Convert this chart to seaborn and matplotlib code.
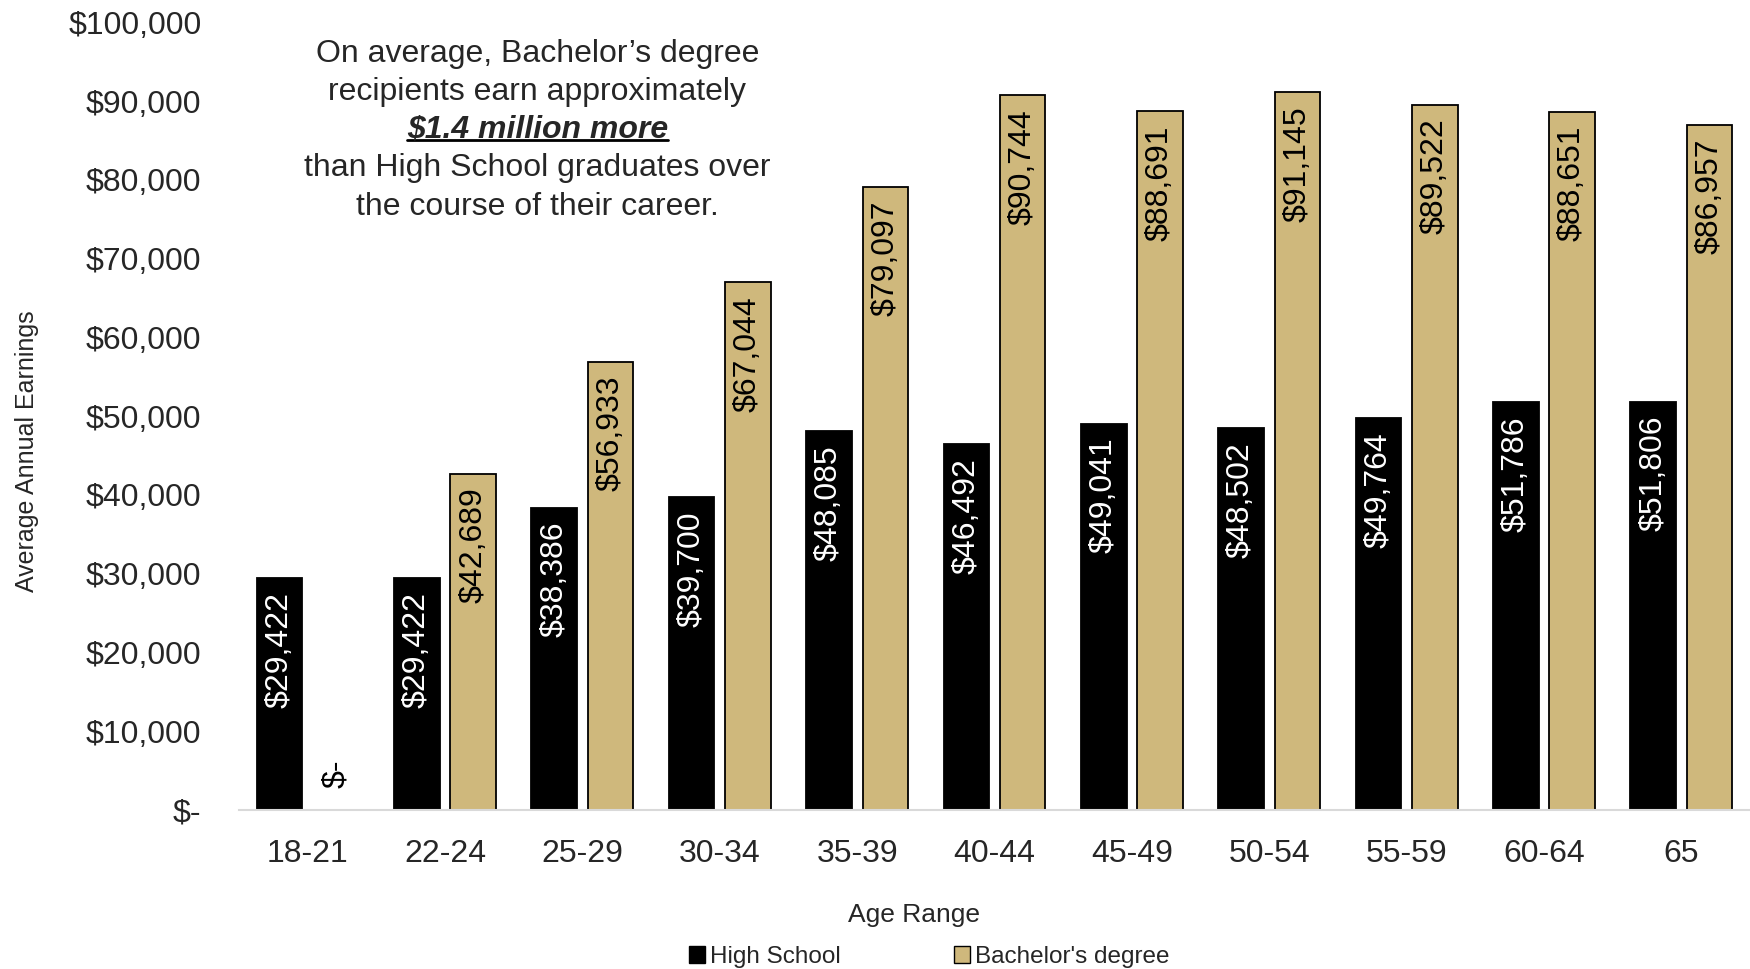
import pandas as pd
import numpy as np
import matplotlib.pyplot as plt
import matplotlib.patches as mpatches
import matplotlib.lines as mlines
import seaborn as sns

# -----------------------------
# Data
# -----------------------------
age_ranges = ["18-21", "22-24", "25-29", "30-34", "35-39", "40-44",
              "45-49", "50-54", "55-59", "60-64", "65"]
high_school = [29422, 29422, 38386, 39700, 48085, 46492,
               49041, 48502, 49764, 51786, 51806]
bachelors = [0, 42689, 56933, 67044, 79097, 90744,
             88691, 91145, 89522, 88651, 86957]
series_names = ["High School", "Bachelor's degree"]
y_ticks = [0, 10000, 20000, 30000, 40000, 50000, 60000, 70000, 80000, 90000, 100000]

df = pd.DataFrame({
    "Age Range": age_ranges * 2,
    "Earnings": high_school + bachelors,
    "Degree": [series_names[0]] * len(age_ranges) + [series_names[1]] * len(age_ranges),
})

sns.set_style("white")
plt.rcParams["font.family"] = ["Liberation Sans", "DejaVu Sans"]

colors = ["#000000", "#CFB87C"]
label_colors = ["white", "black"]

fig = plt.figure(figsize=(17.5, 9.69), dpi=100)
ax = fig.add_axes([0.1366, 0.164, 0.8634, 0.813])

sns.barplot(data=df, x="Age Range", y="Earnings", hue="Degree",
            palette=colors, width=0.82, gap=0.19, edgecolor="black",
            linewidth=1.3, legend=False, ax=ax, saturation=1)

# -----------------------------
# Value labels
# -----------------------------
for cont, lc in zip(ax.containers, label_colors):
    for bar in cont:
        h = bar.get_height()
        xc = bar.get_x() + bar.get_width() / 2
        if h == 0:
            ax.annotate("$-", (xc, 0), xytext=(0, 16), textcoords="offset points",
                        rotation=90, ha="center", va="bottom", fontsize=23, color="black")
        else:
            ax.annotate(f"${h:,.0f}", (xc, h), xytext=(0, -10), textcoords="offset points",
                        rotation=90, ha="center", va="top", fontsize=23, color=lc)

# -----------------------------
# Axes styling
# -----------------------------
ax.set_ylim(0, 100000)
ax.set_xlim(-0.5, 10.5)
ax.set_yticks(y_ticks)
ax.set_yticklabels(["$-"] + [f"${v:,.0f}" for v in y_ticks[1:]])
ax.tick_params(axis="y", length=0, pad=27, labelsize=23)
ax.tick_params(axis="x", length=0, pad=21, labelsize=23)
for s in ["top", "right", "left"]:
    ax.spines[s].set_visible(False)
ax.spines["bottom"].set_color("#d9d9d9")
ax.spines["bottom"].set_linewidth(1.5)

ax.set_ylabel("Average Annual Earnings", fontsize=18)
ax.yaxis.set_label_coords(-0.1326, 0.456)
ax.set_xlabel("Age Range", fontsize=19)
ax.xaxis.set_label_coords(0.447, -0.118)

# -----------------------------
# Annotation text
# -----------------------------
tx = 0.307
fig.text(tx, 0.9445, "On average, Bachelor\u2019s degree", ha="center", va="center", fontsize=23)
fig.text(tx, 0.9055, "recipients earn approximately", ha="center", va="center", fontsize=23)
bold = fig.text(tx, 0.8665, "$1.4 million more", ha="center", va="center", fontsize=23,
                fontweight="bold", fontstyle="italic")
fig.text(tx, 0.8265, "than High School graduates over", ha="center", va="center", fontsize=23)
fig.text(tx, 0.7865, "the course of their career.", ha="center", va="center", fontsize=23)

fig.canvas.draw()
bb = bold.get_window_extent().transformed(fig.transFigure.inverted())
fig.add_artist(mlines.Line2D([bb.x0, bb.x1], [bb.y0 + 0.004, bb.y0 + 0.004],
                             transform=fig.transFigure, color="black", linewidth=2))

# -----------------------------
# Legend
# -----------------------------
handles = [mpatches.Patch(facecolor=c, edgecolor="black", linewidth=1, label=n)
           for c, n in zip(colors, series_names)]
fig.legend(handles=handles, loc="lower center", bbox_to_anchor=(0.531, -0.004), ncol=2,
           frameon=False, fontsize=17.5, handlelength=0.65, handleheight=0.65,
           handletextpad=0.2, columnspacing=4.7, borderpad=0.2, borderaxespad=0)

fig.savefig("out.png", dpi=100)
